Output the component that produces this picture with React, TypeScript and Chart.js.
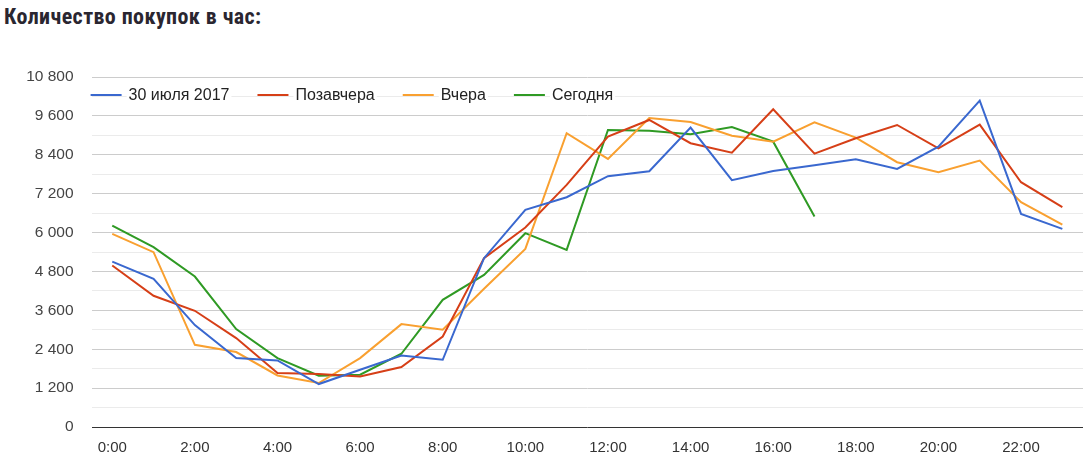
import React, { useEffect, useRef } from "react";
import { Chart, registerables } from "chart.js";

Chart.register(...registerables);

const hours = [
  "0:00", "1:00", "2:00", "3:00", "4:00", "5:00", "6:00", "7:00", "8:00", "9:00", "10:00", "11:00",
  "12:00", "13:00", "14:00", "15:00", "16:00", "17:00", "18:00", "19:00", "20:00", "21:00", "22:00", "23:00",
];

const seriesNames = ["30 июля 2017", "Позавчера", "Вчера", "Сегодня"];
const seriesColors = ["#3a68cf", "#d63f17", "#f9a030", "#2f9a24"];

const july30 = [5105, 4572, 3145, 2127, 2054, 1325, 1767, 2208, 2075, 5210, 6700, 7091,
  7738, 7893, 9237, 7615, 7902, 8077, 8262, 7963, 8651, 10069, 6576, 6114];
const dayBefore = [4982, 4048, 3586, 2744, 1665, 1634, 1560, 1850, 2793, 5210, 6154, 7470,
  8959, 9474, 8756, 8466, 9804, 8435, 8910, 9320, 8601, 9329, 7553, 6783];
const yesterday = [5959, 5395, 2537, 2312, 1591, 1356, 2127, 3175, 3000, 4264, 5497, 9064,
  8272, 9536, 9412, 8990, 8805, 9403, 8928, 8170, 7862, 8219, 6937, 6246];
const today = [6215, 5549, 4643, 3021, 2127, 1582, 1612, 2260, 3925, 4695, 5981, 5466,
  9166, 9144, 9033, 9258, 8805, 6493, null, null, null, null, null, null];

const yMax = 10800;
const yMinorStep = 600;
const yMajorStep = 1200;

const fmt = (v: number) => String(v).replace(/\B(?=(\d{3})+(?!\d))/g, " ");

const legendPlugin = {
  id: "insideLegend",
  afterDatasetsDraw(chart: any) {
    const ctx = chart.ctx;
    const area = chart.chartArea;
    ctx.save();
    ctx.font = "16px Arial, 'Liberation Sans', sans-serif";
    ctx.textBaseline = "middle";
    let x = area.left - 1;
    const y = 95;
    chart.data.datasets.forEach((ds: any) => {
      ctx.strokeStyle = ds.borderColor;
      ctx.lineWidth = 2;
      ctx.beginPath();
      ctx.moveTo(x, y);
      ctx.lineTo(x + 31, y);
      ctx.stroke();
      const tx = x + 38;
      const w = ctx.measureText(ds.label).width;
      ctx.fillStyle = "#ffffff";
      ctx.fillRect(tx - 2, y - 9, w + 4, 18);
      ctx.fillStyle = "#222222";
      ctx.fillText(ds.label, tx, y + 1);
      x = tx + w + 28;
    });
    ctx.restore();
  },
};

export default function App() {
  const ref = useRef<HTMLCanvasElement>(null);

  useEffect(() => {
    if (!ref.current) return;
    const data = [july30, dayBefore, yesterday, today];
    const chart = new Chart(ref.current, {
      type: "line",
      data: {
        labels: hours,
        datasets: seriesNames.map((name, i) => ({
          label: name,
          data: data[i],
          borderColor: seriesColors[i],
          backgroundColor: seriesColors[i],
          borderWidth: 2,
          pointRadius: 0,
          tension: 0,
          spanGaps: false,
        })),
      },
      options: {
        animation: false,
        responsive: false,
        maintainAspectRatio: false,
        layout: { padding: { left: 6.6, right: 5, top: 77, bottom: 0 } },
        plugins: {
          legend: { display: false },
          tooltip: { enabled: false },
        },
        scales: {
          x: {
            offset: true,
            grid: { display: false, drawTicks: false },
            border: { display: false },
            ticks: {
              autoSkip: false,
              maxRotation: 0,
              padding: 12,
              color: "#333333",
              font: { family: "Arial, 'Liberation Sans', sans-serif", size: 15 },
              callback: (_v: any, i: number) => (i % 2 === 0 ? hours[i] : ""),
            },
            afterFit: (s: any) => { s.height = 38; },
          },
          y: {
            min: 0,
            max: yMax,
            border: { display: false },
            grid: {
              drawTicks: false,
              lineWidth: 1,
              color: (c: any) => {
                const v = c.tick ? c.tick.value : 0;
                if (v === 0) return "#333333";
                return v % yMajorStep === 0 ? "#cccccc" : "#ebebeb";
              },
            },
            ticks: {
              stepSize: yMinorStep,
              autoSkip: false,
              padding: 18,
              color: "#444444",
              font: { family: "Arial, 'Liberation Sans', sans-serif", size: 15.5 },
              callback: (v: any) => (Number(v) % yMajorStep === 0 ? fmt(Number(v)) : ""),
            },
            afterFit: (s: any) => { s.width = 85; },
          },
        },
      },
      plugins: [legendPlugin],
    });
    return () => chart.destroy();
  }, []);

  return (
    <div style={{ position: "fixed", left: 0, top: 0, width: 1088, height: 465, background: "#fff" }}>
      <div
        style={{
          position: "absolute",
          left: 4,
          top: 4,
          fontFamily: "'Liberation Sans Narrow', 'Roboto Condensed', 'Roboto', sans-serif",
          fontWeight: 700,
          fontSize: 22,
          letterSpacing: 0.4,
          color: "#2a2630",
          whiteSpace: "nowrap",
        }}
      >
        Количество покупок в час:
      </div>
      <canvas ref={ref} width={1088} height={465} style={{ position: "absolute", left: 0, top: 0 }} />
    </div>
  );
}
